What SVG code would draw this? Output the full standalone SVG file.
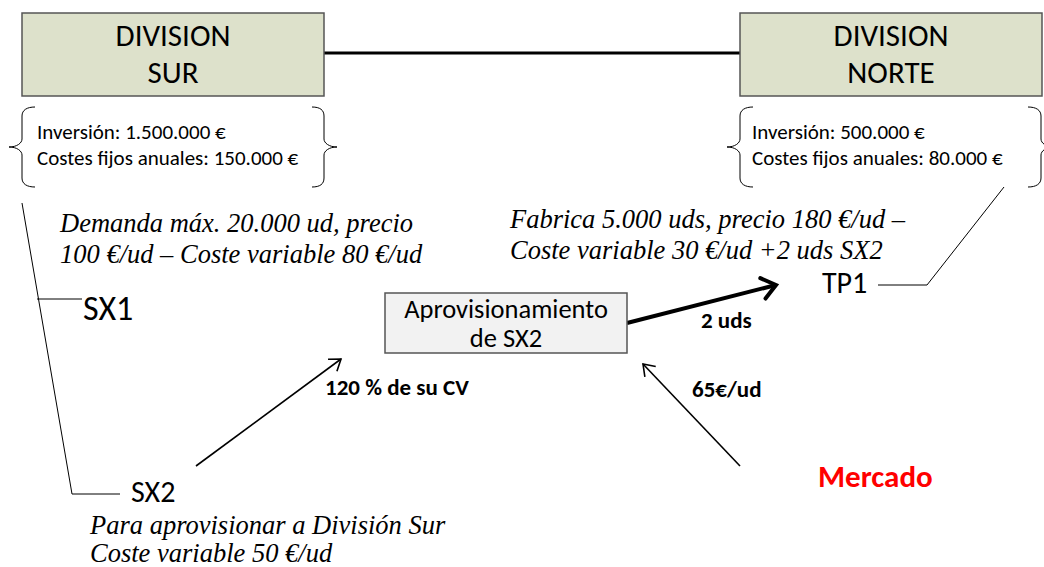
<svg xmlns="http://www.w3.org/2000/svg" width="1044" height="567" viewBox="0 0 1044 567">
<style>
.box{fill:#dde1cb;stroke:#555;stroke-width:1.5}
.apro{fill:#f2f2f2;stroke:#555;stroke-width:1.5}
.sans{font-family:Carlito,"Lato","Open Sans",sans-serif;fill:#000}
.big{font-size:31px}
.small{font-size:21px}
.it{font-family:"Liberation Serif","Times New Roman",serif;font-style:italic;font-size:26.5px;fill:#000}
.bold{font-family:Carlito,"Lato","Open Sans",sans-serif;font-weight:bold;font-size:23px;fill:#000}
.red{font-family:Carlito,"Lato","Open Sans",sans-serif;font-weight:bold;font-size:31px;fill:#ff0000}
.thin{fill:none;stroke:#000;stroke-width:1}
.arrow{fill:none;stroke:#000;stroke-width:1.6}
</style>
<defs>
<marker id="ah" markerUnits="userSpaceOnUse" viewBox="-14 -10 16 20" refX="0" refY="0" markerWidth="16" markerHeight="20" orient="auto" overflow="visible">
<path d="M-10.6,-7.5 L0,0 L-10.6,7.5" fill="none" stroke="#000" stroke-width="1.6"/>
</marker>
<marker id="ahb" markerUnits="userSpaceOnUse" viewBox="-18 -14 20 28" refX="0" refY="0" markerWidth="20" markerHeight="28" orient="auto" overflow="visible">
<path d="M-13.5,-10.5 L0,0 L-13.5,10.5" fill="none" stroke="#000" stroke-width="4" stroke-linecap="round" stroke-linejoin="miter"/>
</marker>
</defs>

<g id="connectors">
<line x1="324" y1="53" x2="740" y2="53" stroke="#000" stroke-width="3"/>
<polyline class="thin" points="22,203 72,494 120,494"/>
<line class="thin" x1="37" y1="299" x2="82" y2="299"/>
<polyline class="thin" points="1004,187 927,285 878,285"/>
<line class="arrow" x1="196" y1="466" x2="341" y2="359" marker-end="url(#ah)"/>
<line class="arrow" x1="740" y1="466" x2="643" y2="364" marker-end="url(#ah)"/>
<line x1="627" y1="323" x2="776" y2="285" stroke="#000" stroke-width="4" marker-end="url(#ahb)"/>
<text class="bold" x="325" y="395">120 % de su CV</text>
<text class="bold" x="701" y="328">2 uds</text>
<text class="bold" x="692" y="397">65€/ud</text>
</g>

<g id="division-sur">
<rect class="box" x="22" y="13" width="302" height="83"/>
<text class="sans big" x="173" y="46" text-anchor="middle">DIVISION</text>
<text class="sans big" x="173" y="83" text-anchor="middle">SUR</text>
</g>

<g id="sur-info">
<path class="thin" d="M35,107 C27,107 22,110 22,116 L22,139 C22,143 17,147 9,147 C17,147 22,151 22,155 L22,178 C22,184 27,187 35,187"/>
<path class="thin" d="M312,107 C320,107 324,110 324,116 L324,139 C324,143 329,147 337,147 C329,147 324,151 324,155 L324,178 C324,184 320,187 312,187"/>
<text class="sans small" x="37" y="139">Inversión: 1.500.000 €</text>
<text class="sans small" x="37" y="165">Costes fijos anuales: 150.000 €</text>
</g>

<g id="division-norte">
<rect class="box" x="740" y="13" width="302" height="83"/>
<text class="sans big" x="891" y="46" text-anchor="middle">DIVISION</text>
<text class="sans big" x="891" y="83" text-anchor="middle">NORTE</text>
</g>

<g id="norte-info">
<path class="thin" d="M753,107 C745,107 740,110 740,116 L740,139 C740,143 735,147 727,147 C735,147 740,151 740,155 L740,178 C740,184 745,187 753,187"/>
<path class="thin" d="M1028,107 C1036,107 1041,110 1041,116 L1041,139 C1041,143 1046,147 1054,147 C1046,147 1041,151 1041,155 L1041,178 C1041,184 1036,187 1028,187"/>
<text class="sans small" x="752" y="139">Inversión: 500.000 €</text>
<text class="sans small" x="752" y="165">Costes fijos anuales: 80.000 €</text>
</g>

<g id="sx1-info">
<text class="it" x="60" y="232">Demanda máx. 20.000 ud, precio</text>
<text class="it" x="60" y="263">100 €/ud – Coste variable 80 €/ud</text>
</g>

<g id="sx1">
<text class="sans" font-size="34" x="83" y="320">SX1</text>
</g>

<g id="tp1-info">
<text class="it" x="510" y="228">Fabrica 5.000 uds, precio 180 €/ud –</text>
<text class="it" x="510" y="259">Coste variable 30 €/ud +2 uds SX2</text>
</g>

<g id="tp1">
<text class="sans" font-size="30" x="822" y="293">TP1</text>
</g>

<g id="aprovisionamiento">
<rect class="apro" x="385" y="293" width="242" height="60"/>
<text class="sans" font-size="26.5" x="506" y="318" text-anchor="middle">Aprovisionamiento</text>
<text class="sans" font-size="26.5" x="506" y="347" text-anchor="middle">de SX2</text>
</g>

<g id="sx2">
<text class="sans" font-size="30" x="131" y="502">SX2</text>
</g>

<g id="sx2-info">
<text class="it" x="90" y="534">Para aprovisionar a División Sur</text>
<text class="it" x="90" y="562">Coste variable 50 €/ud</text>
</g>

<g id="mercado">
<text class="red" x="818" y="487">Mercado</text>
</g>
</svg>
